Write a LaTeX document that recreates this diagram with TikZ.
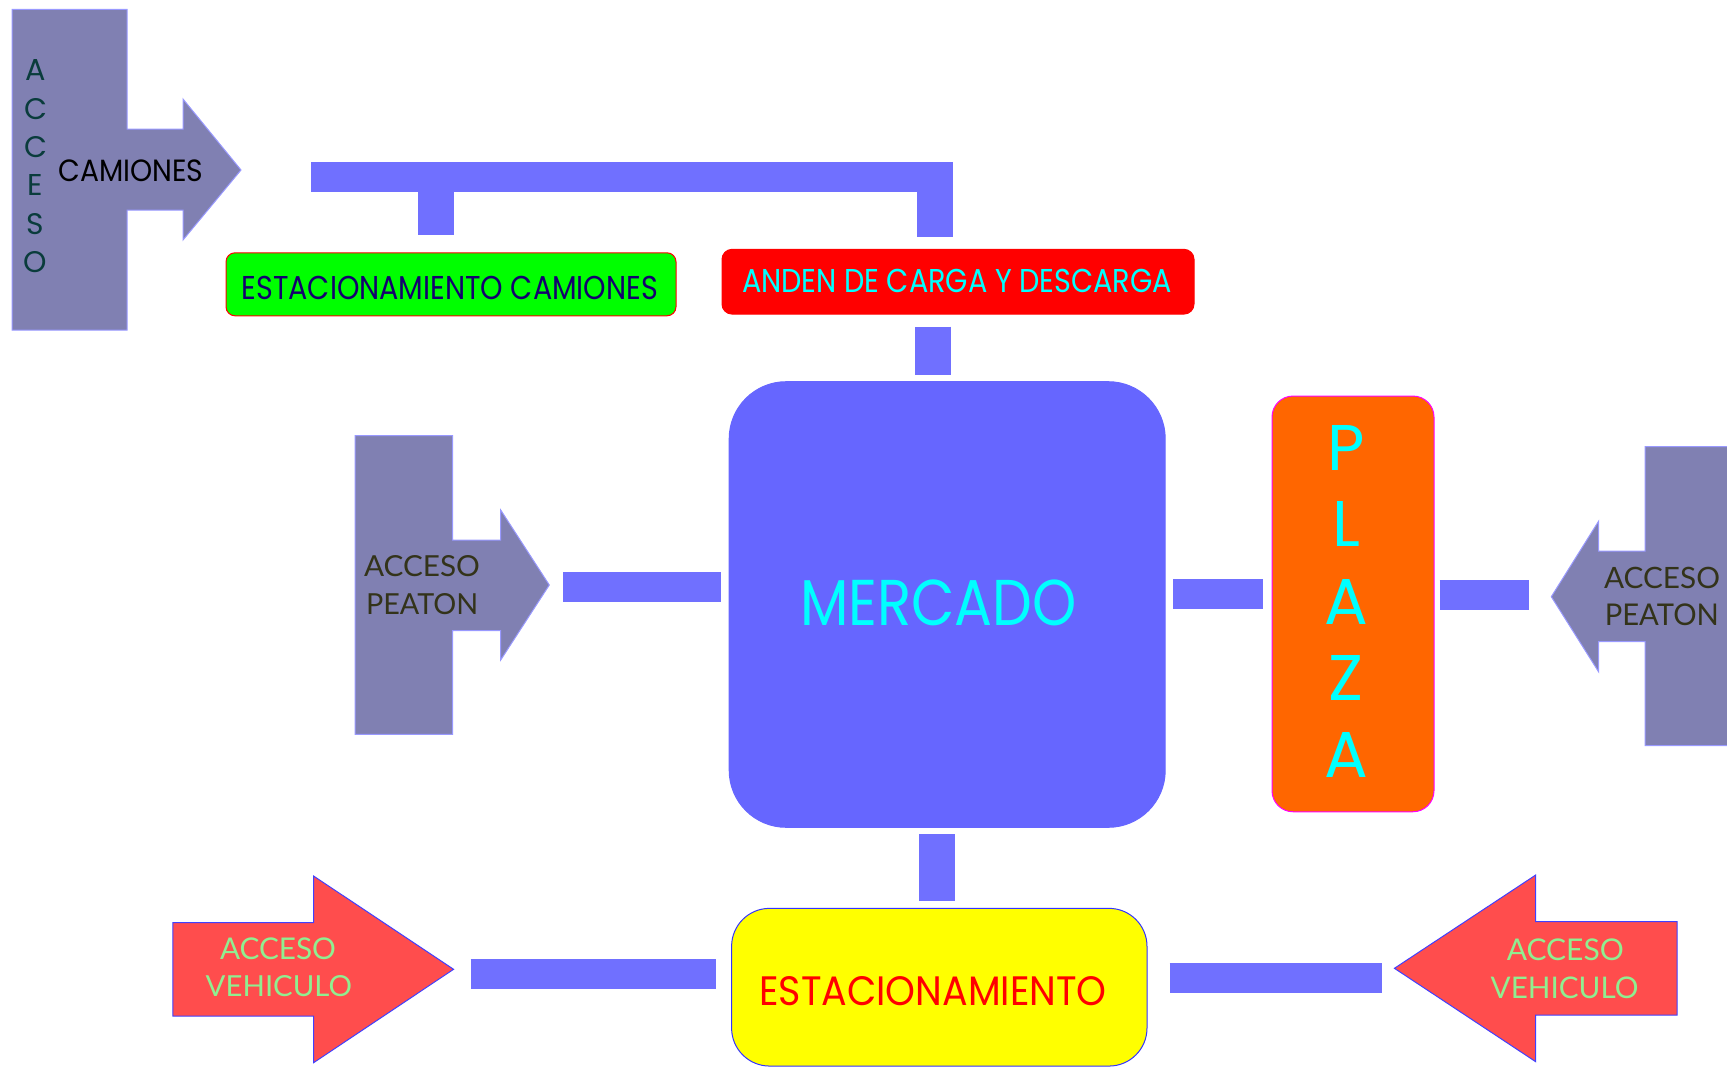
\documentclass[tikz,border=0pt]{standalone}
\usepackage{fontspec}
\setmainfont{Poppins}
\newfontfamily\gillf{Lato}
\usepackage{graphicx}
\definecolor{accgray}{RGB}{128,128,178}
\definecolor{accborder}{RGB}{153,153,255}
\definecolor{barblue}{RGB}{112,112,255}
\definecolor{mercadoc}{RGB}{102,102,255}
\definecolor{vehred}{RGB}{255,77,77}
\definecolor{vehtext}{RGB}{144,238,144}
\definecolor{peatontext}{RGB}{51,51,26}
\definecolor{cyanc}{RGB}{0,255,255}
\definecolor{greenc}{RGB}{0,255,0}
\definecolor{plazac}{RGB}{255,102,0}
\definecolor{magc}{RGB}{255,0,255}
\definecolor{yellowc}{RGB}{255,255,0}
\definecolor{yborder}{RGB}{51,51,255}
\definecolor{navyc}{RGB}{20,0,110}
\definecolor{tealc}{RGB}{10,60,60}
\newcommand{\ft}[3]{\resizebox{#1pt}{#2pt}{#3}}
\newcommand{\fh}[2]{\resizebox{!}{#1pt}{#2}}
\begin{document}
\begin{tikzpicture}[x=1pt,y=-1pt,
  grayarrow/.style={fill=accgray, draw=accborder, line width=1pt},
  redarrow/.style={fill=vehred, draw=blue!75, line width=1pt},
  bar/.style={draw=barblue, line width=30pt},
  stub/.style={draw=barblue, line width=36pt},
  txt/.style={anchor=base west, inner sep=0pt, outer sep=0pt},
  ltr/.style={anchor=base, inner sep=0pt, outer sep=0pt},
  box/.style={rectangle, inner sep=0pt, line width=1pt}
]
\useasboundingbox (0,0) rectangle (1727,1068);
\clip (0,0) rectangle (1727,1068);

% ---------- arrows (shapes) ----------
\draw[grayarrow] (12,9.3) -- (127,9.3) -- (127,129) -- (183,129) -- (183,99) -- (241,170)
  -- (183,240) -- (183,210) -- (127,210) -- (127,330) -- (12,330) -- cycle;
\draw[grayarrow] (355,435.7) -- (452.7,435.7) -- (452.7,540) -- (500.7,540) -- (500.7,510)
  -- (549.3,585) -- (500.7,660) -- (500.7,630.7) -- (452.7,630.7) -- (452.7,734.3) -- (355,734.3) -- cycle;
\draw[grayarrow] (1740,446.7) -- (1645,446.7) -- (1645,551) -- (1598.7,551) -- (1598.7,521)
  -- (1551.3,596.7) -- (1598.7,672) -- (1598.7,641.7) -- (1645,641.7) -- (1645,745.7) -- (1740,745.7) -- cycle;
\draw[redarrow] (172.9,922.7) -- (313.6,922.7) -- (313.6,876) -- (453.6,969.3) -- (313.6,1062.7)
  -- (313.6,1016) -- (172.9,1016) -- cycle;
\draw[redarrow] (1677,921.7) -- (1535.7,921.7) -- (1535.7,875) -- (1394.4,968.3) -- (1535.7,1061.7)
  -- (1535.7,1015) -- (1677,1015) -- cycle;

% ---------- boxes ----------
\node[box, fill=greenc, draw=red, rounded corners=9pt, minimum width=450pt, minimum height=63pt] (estcam) at (451,284.3) {};
\node[box, fill=red, draw=red, rounded corners=10pt, minimum width=472pt, minimum height=64.7pt] (anden) at (958,281.7) {};
\node[box, fill=mercadoc, draw=mercadoc, rounded corners=57pt, minimum width=436pt, minimum height=445.6pt] (mercado) at (947.2,604.5) {};
\node[box, fill=plazac, draw=magc, rounded corners=21pt, minimum width=162pt, minimum height=415.7pt] (plaza) at (1353,603.9) {};
\node[box, fill=yellowc, draw=yborder, rounded corners=38pt, minimum width=415.4pt, minimum height=157.7pt] (estac) at (939.3,987.2) {};

% ---------- connector bars ----------
\coordinate (t1) at (311,177);   \coordinate (t2) at (952.7,177);
\coordinate (s1a) at (436,192);  \coordinate (s1b) at (436,235);
\coordinate (s2a) at (934.9,192); \coordinate (s2b) at (934.9,237.3);
\coordinate (s3a) at (932.9,326.7); \coordinate (s3b) at (932.9,374.7);
\coordinate (p1a) at (563,586.7); \coordinate (p1b) at (721,586.7);
\coordinate (p2a) at (1173,594.3); \coordinate (p2b) at (1262.7,594.3);
\coordinate (p3a) at (1439.6,595); \coordinate (p3b) at (1529.3,595);
\coordinate (s4a) at (937,834); \coordinate (s4b) at (937,900.7);
\coordinate (v1a) at (470.7,973.7); \coordinate (v1b) at (716.4,973.7);
\coordinate (v2a) at (1169.6,977.8); \coordinate (v2b) at (1382,977.8);
\draw[bar] (t1) -- (t2);
\draw[stub] (s1a) -- (s1b);
\draw[stub] (s2a) -- (s2b);
\draw[stub] (s3a) -- (s3b);
\draw[bar] (p1a) -- (p1b);
\draw[bar] (p2a) -- (p2b);
\draw[bar] (p3a) -- (p3b);
\draw[stub] (s4a) -- (s4b);
\draw[bar] (v1a) -- (v1b);
\draw[bar] (v2a) -- (v2b);

% ---------- texts ----------
\node[ltr, text=tealc] (va1) at (35.7,80.7) {\fh{21}{A}};
\node[ltr, text=tealc] (va2) at (35.7,119.1) {\fh{21}{C}};
\node[ltr, text=tealc] (va3) at (35.7,157.5) {\fh{21}{C}};
\node[ltr, text=tealc] (va4) at (35.7,195.9) {\fh{21}{E}};
\node[ltr, text=tealc] (va5) at (35.7,234.3) {\fh{21}{S}};
\node[ltr, text=tealc] (va6) at (35.7,272.7) {\fh{21}{O}};
\node[txt, text=black] (camiones) at (58.3,181.7) {\ft{145}{21.7}{CAMIONES}};

\node[txt, text=navyc] (estcamt) at (241.7,299.3) {\ft{416.3}{23.3}{ESTACIONAMIENTO CAMIONES}};
\node[txt, text=cyanc] (andent) at (742,292.7) {\ft{430}{23.3}{ANDEN DE CARGA Y DESCARGA}};
\node[txt, text=cyanc] (mercadot) at (800,625) {\ft{276.7}{45.7}{MERCADO}};
\node[txt, text=red] (estact) at (759.3,1005) {\ft{347.4}{29}{ESTACIONAMIENTO}};

\node[ltr, text=cyanc] (pl1) at (1346,470.7) {\fh{45}{P}};
\node[ltr, text=cyanc] (pl2) at (1346,546.7) {\fh{45}{L}};
\node[ltr, text=cyanc] (pl3) at (1346,624) {\fh{45}{A}};
\node[ltr, text=cyanc] (pl4) at (1346,700.7) {\fh{45}{Z}};
\node[ltr, text=cyanc] (pl5) at (1346,777.7) {\fh{45}{A}};

\node[txt, text=peatontext, font=\gillf] (lpa) at (364,576) {\ft{116}{21}{ACCESO}};
\node[txt, text=peatontext, font=\gillf] (lpb) at (366,614) {\ft{112.3}{21}{PEATON}};
\node[txt, text=peatontext, font=\gillf] (rpa) at (1604,588) {\ft{116}{21.3}{ACCESO}};
\node[txt, text=peatontext, font=\gillf] (rpb) at (1604.8,625.7) {\ft{114}{21.7}{PEATON}};

\node[txt, text=vehtext, font=\gillf] (lva) at (220,959) {\ft{116}{21.7}{ACCESO}};
\node[txt, text=vehtext, font=\gillf] (lvb) at (205.7,996) {\ft{146.3}{21}{VEHICULO}};
\node[txt, text=vehtext, font=\gillf] (rva) at (1506.8,960) {\ft{117}{21.7}{ACCESO}};
\node[txt, text=vehtext, font=\gillf] (rvb) at (1490.7,998.3) {\ft{147.7}{21.6}{VEHICULO}};
\end{tikzpicture}
\end{document}
